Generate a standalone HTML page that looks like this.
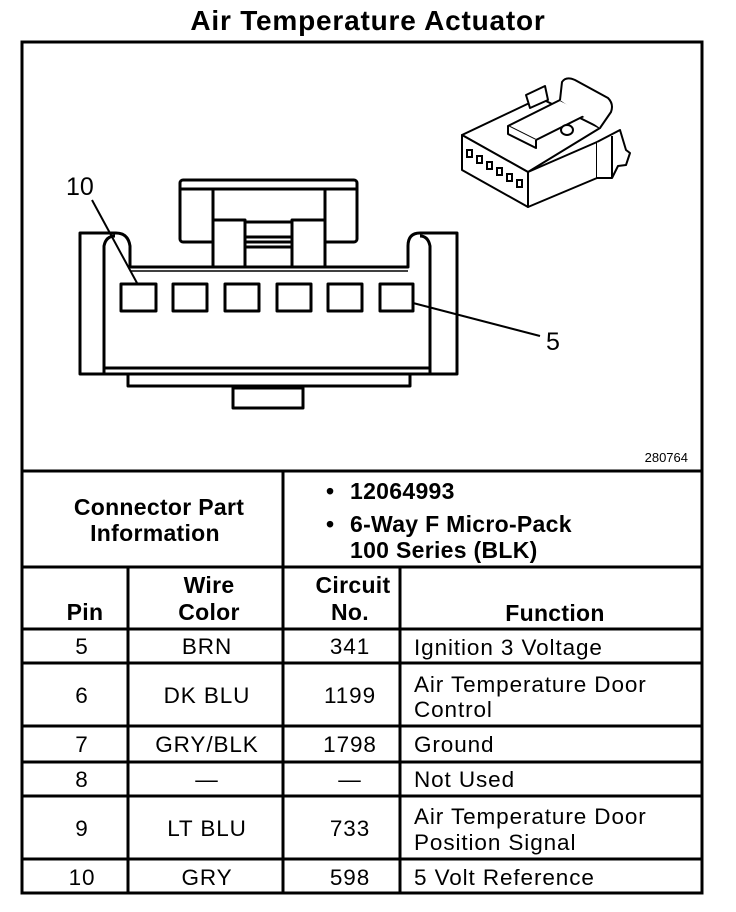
<!DOCTYPE html>
<html><head><meta charset="utf-8"><style>
html,body{margin:0;padding:0;background:#fff;}
svg{display:block;}
text{font-family:"Liberation Sans",Arial,sans-serif;fill:#000;}
.b{font-weight:bold;font-size:23px;letter-spacing:0.3px;}
.n{font-size:22.5px;letter-spacing:0.9px;}
</style></head><body>
<svg width="736" height="912" viewBox="0 0 736 912" xmlns="http://www.w3.org/2000/svg">
<text x="368" y="30" text-anchor="middle" style="font-weight:bold;font-size:28px;letter-spacing:0.8px">Air Temperature Actuator</text>
<g fill="none" stroke="#000" stroke-width="3">
<rect x="22" y="42" width="680" height="851"/>
<line x1="22" y1="471" x2="702" y2="471"/>
<line x1="22" y1="567" x2="702" y2="567"/>
<line x1="22" y1="629" x2="702" y2="629"/>
<line x1="22" y1="663" x2="702" y2="663"/>
<line x1="22" y1="726" x2="702" y2="726"/>
<line x1="22" y1="762" x2="702" y2="762"/>
<line x1="22" y1="796" x2="702" y2="796"/>
<line x1="22" y1="859" x2="702" y2="859"/>
<line x1="283" y1="471" x2="283" y2="893"/>
<line x1="128" y1="567" x2="128" y2="893"/>
<line x1="400" y1="567" x2="400" y2="893"/>
</g>
<!-- connector front view -->
<g fill="none" stroke="#000" stroke-width="3" stroke-linejoin="round">
<rect x="180" y="180" width="177" height="62" rx="3"/>
<line x1="213" y1="189" x2="213" y2="267"/>
<line x1="325" y1="189" x2="325" y2="267"/>
<line x1="180" y1="189" x2="357" y2="189"/>
<rect x="213" y="220" width="32" height="47" fill="#fff"/>
<rect x="292" y="220" width="33" height="47" fill="#fff"/>
<line x1="245" y1="222" x2="292" y2="222"/>
<line x1="245" y1="237" x2="292" y2="237"/>
<line x1="245" y1="247" x2="292" y2="247"/>
<path d="M80 233 L80 374 L457 374 L457 233 L420 233 Q408 233 408 246 L408 267 L130 267 L130 246 Q128 233 116 233 Z" fill="#fff"/>
<path d="M104 374 L104 246 Q106 236 115 236"/>
<path d="M430 374 L430 246 Q428 236 420 236"/>
<line x1="104" y1="368" x2="430" y2="368"/>
<line x1="130" y1="271" x2="408" y2="271" stroke-width="1.5"/>
<path d="M128 374 L128 386 L410 386 L410 374"/>
<rect x="233" y="388" width="70" height="20"/>
<rect x="121" y="284" width="35" height="27"/>
<rect x="173" y="284" width="34" height="27"/>
<rect x="225" y="284" width="34" height="27"/>
<rect x="277" y="284" width="34" height="27"/>
<rect x="328" y="284" width="34" height="27"/>
<rect x="380" y="284" width="33" height="27"/>
</g>
<g stroke="#000" stroke-width="2">
<line x1="92" y1="200" x2="137" y2="283"/>
<line x1="413" y1="303" x2="540" y2="336"/>
</g>
<text x="66" y="195" style="font-size:25px">10</text>
<text x="546" y="350" style="font-size:25px">5</text>
<text x="688" y="462" text-anchor="end" style="font-size:13px">280764</text>
<!-- 3D connector icon -->
<g fill="#fff" stroke="#000" stroke-width="2" stroke-linejoin="round">
<path d="M462 135 L540 98 L600 128 L528 172 Z"/>
<path d="M462 135 L528 172 L528 207 L462 170 Z"/>
<path d="M528 172 L597 142 L597 178 L528 207 Z"/>
<path d="M526 95 L545 86 L548 100 L530 108 Z"/>
<path d="M508 126 L560 100 L588 114 L536 140 Z"/>
<path d="M508 126 L508 134 L536 148 L536 140"/>
<path d="M560 100 L562 82 Q566 76 575 80 L608 98 Q614 104 611 112 L600 128"/>
<ellipse cx="567" cy="130" rx="6" ry="5"/>
<path d="M597 142 L620 130 L626 150 L630 153 L626 165 L618 166 L612 178 L597 178"/>
<line x1="612" y1="136" x2="612" y2="178"/>
</g>
<g fill="none" stroke="#000" stroke-width="2">
<rect x="467" y="150" width="5" height="7"/><rect x="477" y="156" width="5" height="7"/><rect x="487" y="162" width="5" height="7"/><rect x="497" y="168" width="5" height="7"/><rect x="507" y="174" width="5" height="7"/><rect x="517" y="180" width="5" height="7"/>
</g>
<!-- table text -->
<text x="159" y="515" text-anchor="middle" class="b">Connector Part</text>
<text x="155" y="541" text-anchor="middle" class="b">Information</text>
<text x="326" y="499" class="b">•</text><text x="350" y="499" class="b">12064993</text>
<text x="326" y="532" class="b">•</text><text x="350" y="532" class="b">6-Way F Micro-Pack</text>
<text x="350" y="558" class="b">100 Series (BLK)</text>
<text x="85" y="620" text-anchor="middle" class="b">Pin</text>
<text x="209" y="593" text-anchor="middle" class="b">Wire</text>
<text x="209" y="620" text-anchor="middle" class="b">Color</text>
<text x="353" y="593" text-anchor="middle" class="b">Circuit</text>
<text x="350" y="620" text-anchor="middle" class="b">No.</text>
<text x="555" y="621" text-anchor="middle" class="b">Function</text>
<text x="82" y="654" text-anchor="middle" class="n">5</text><text x="207" y="654" text-anchor="middle" class="n">BRN</text><text x="350" y="654" text-anchor="middle" class="n">341</text><text x="414" y="655" class="n">Ignition 3 Voltage</text>
<text x="82" y="703" text-anchor="middle" class="n">6</text><text x="207" y="703" text-anchor="middle" class="n">DK BLU</text><text x="350" y="703" text-anchor="middle" class="n">1199</text><text x="414" y="692" class="n">Air Temperature Door</text><text x="414" y="717" class="n">Control</text>
<text x="82" y="752" text-anchor="middle" class="n">7</text><text x="207" y="752" text-anchor="middle" class="n">GRY/BLK</text><text x="350" y="752" text-anchor="middle" class="n">1798</text><text x="414" y="752" class="n">Ground</text>
<text x="82" y="787" text-anchor="middle" class="n">8</text><text x="207" y="787" text-anchor="middle" class="n">—</text><text x="350" y="787" text-anchor="middle" class="n">—</text><text x="414" y="787" class="n">Not Used</text>
<text x="82" y="836" text-anchor="middle" class="n">9</text><text x="207" y="836" text-anchor="middle" class="n">LT BLU</text><text x="350" y="836" text-anchor="middle" class="n">733</text><text x="414" y="824" class="n">Air Temperature Door</text><text x="414" y="850" class="n">Position Signal</text>
<text x="82" y="885" text-anchor="middle" class="n">10</text><text x="207" y="885" text-anchor="middle" class="n">GRY</text><text x="350" y="885" text-anchor="middle" class="n">598</text><text x="414" y="885" class="n">5 Volt Reference</text>
</svg>
</body></html>
